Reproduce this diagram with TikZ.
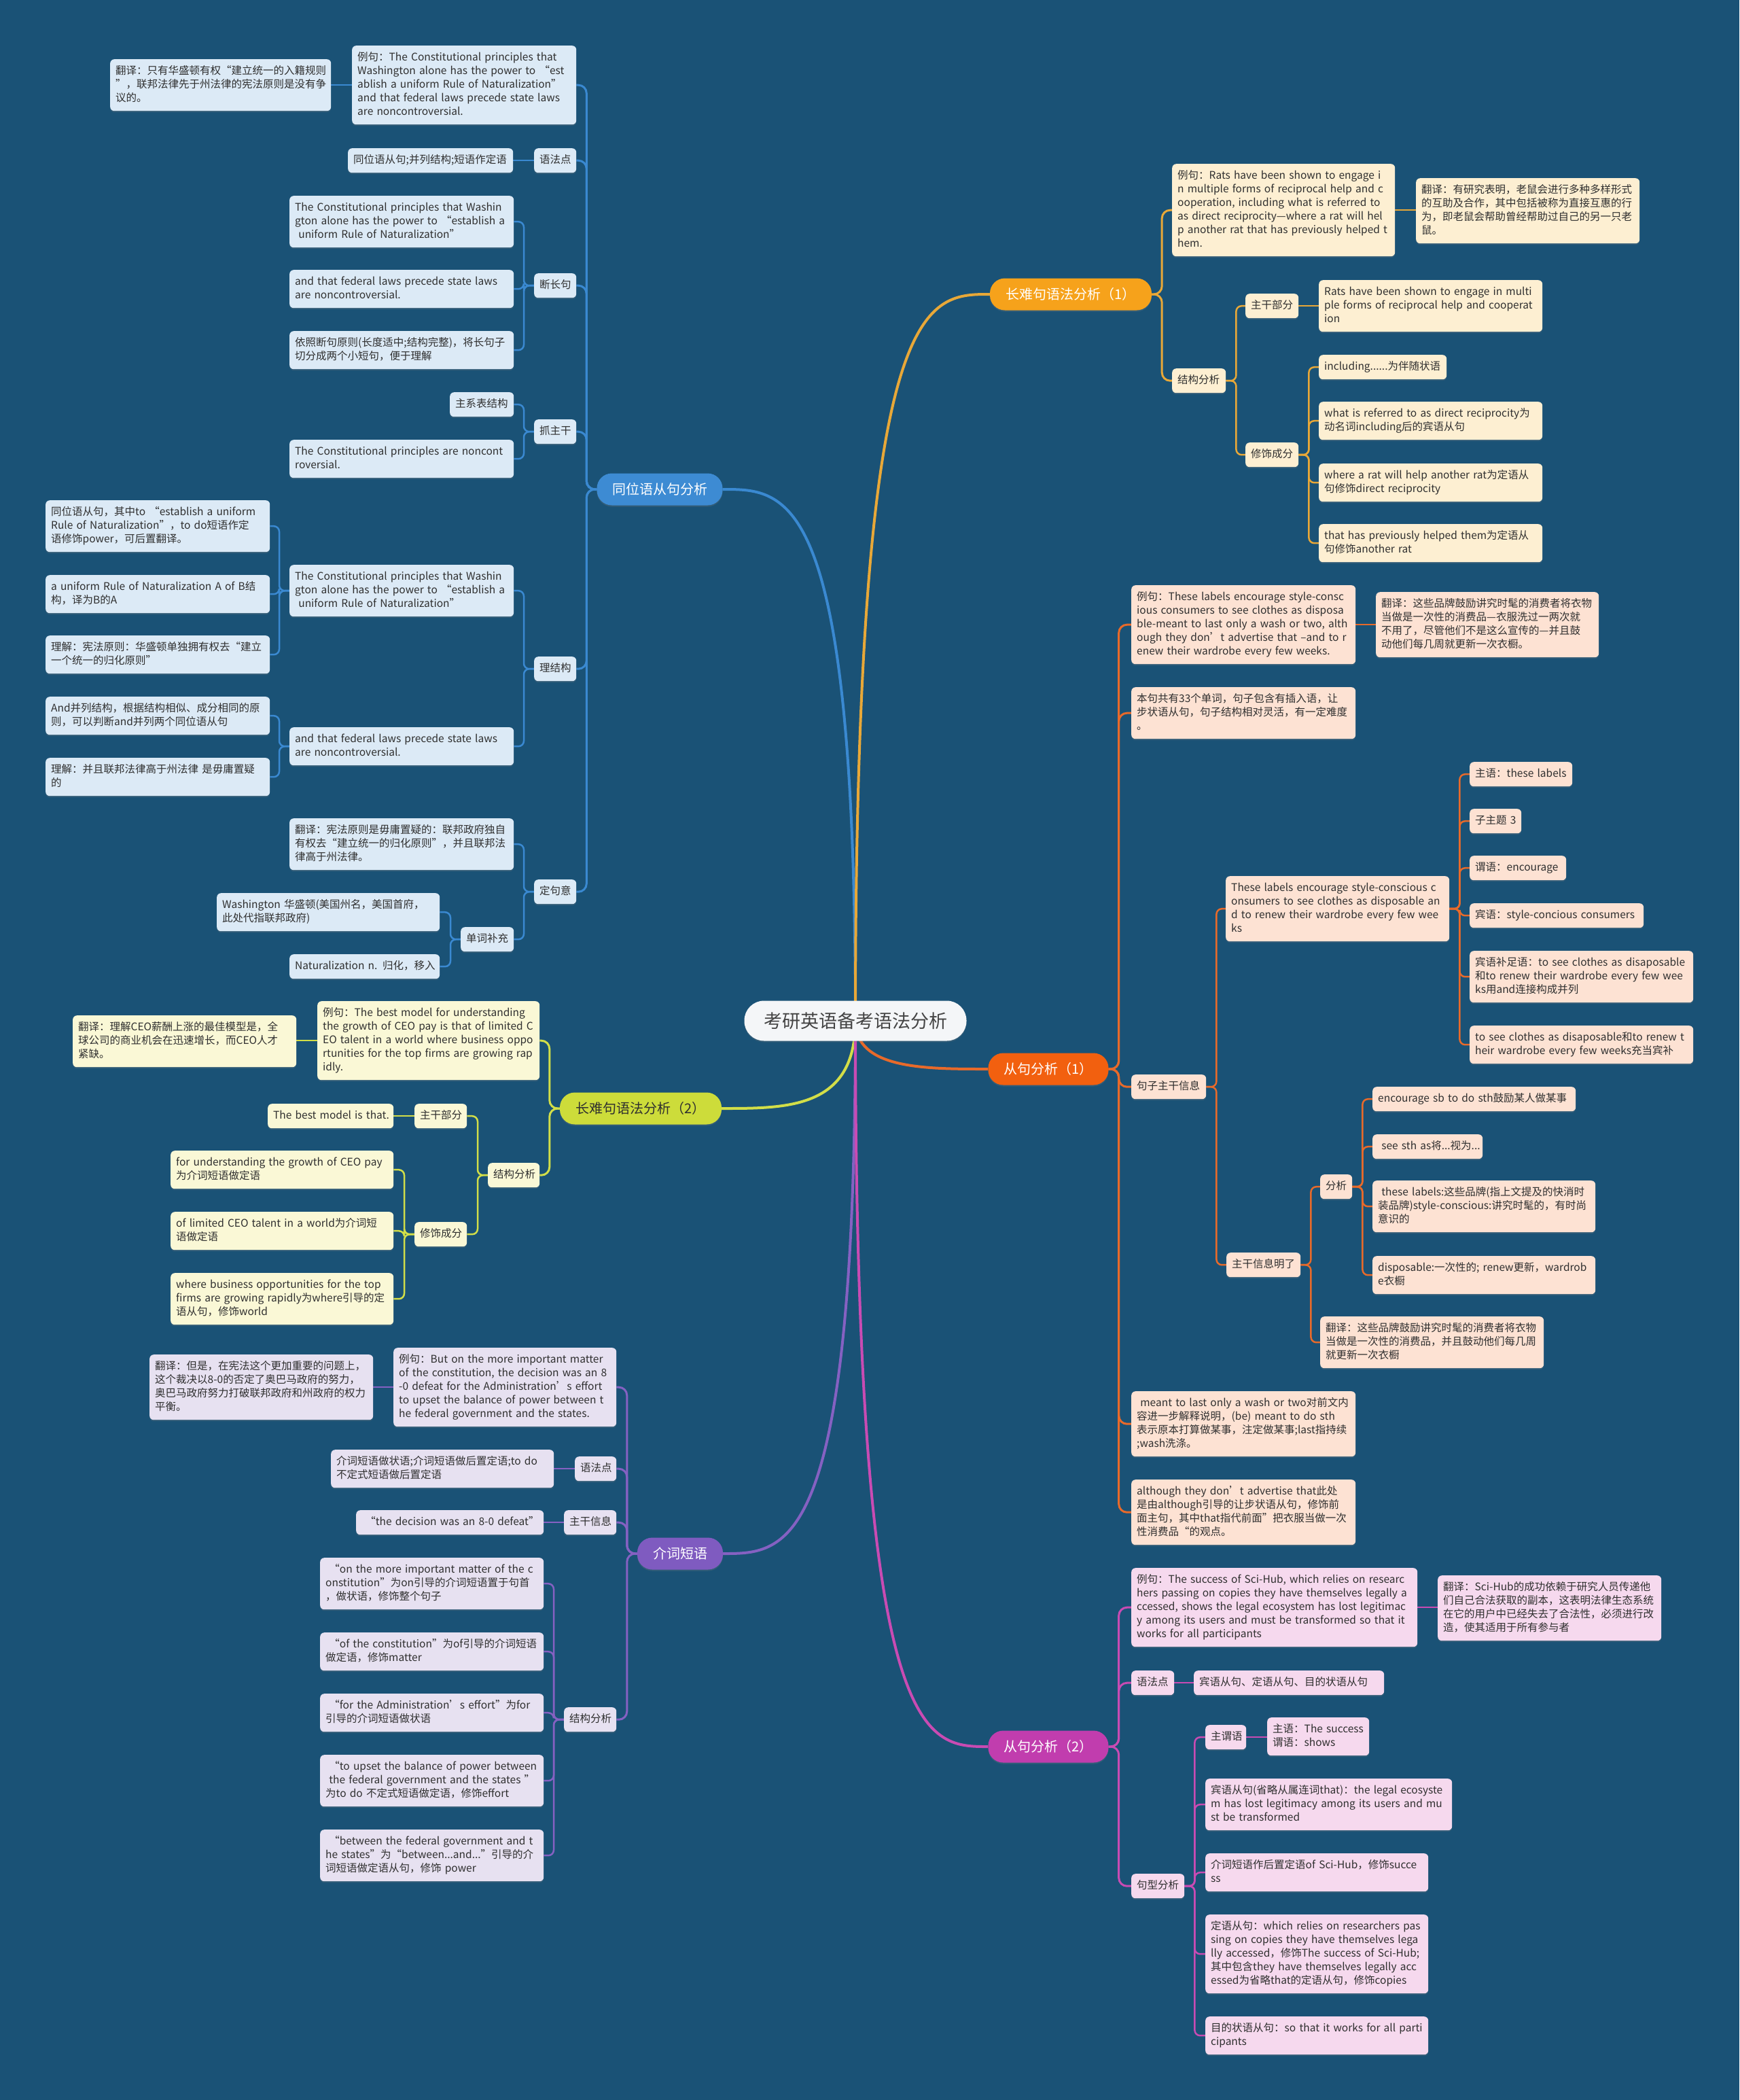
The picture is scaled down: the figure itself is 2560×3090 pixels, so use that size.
\documentclass[tikz,border=0pt]{standalone}
\usepackage{fontspec}
\setmainfont{Noto Sans CJK SC}
\usetikzlibrary{shadows}
\pgfdeclarelayer{bg}\pgfdeclarelayer{edges}
\pgfsetlayers{bg,edges,main}
\definecolor{bgc}{HTML}{1A5276}
\definecolor{txt}{HTML}{2F2F2F}
\definecolor{brB}{HTML}{3D8BD3}\definecolor{chB}{HTML}{DCEAF6}\definecolor{lnB}{HTML}{3A89D1}
\definecolor{brO}{HTML}{F6A21B}\definecolor{chO}{HTML}{FDEFD2}\definecolor{lnO}{HTML}{E8A838}
\definecolor{brR}{HTML}{F2600F}\definecolor{chR}{HTML}{FDE2D3}\definecolor{lnR}{HTML}{E86A2A}
\definecolor{brY}{HTML}{CDDC3A}\definecolor{chY}{HTML}{FAF8D6}\definecolor{lnY}{HTML}{D2DE48}
\definecolor{brP}{HTML}{7F5BC0}\definecolor{chP}{HTML}{E7E1F1}\definecolor{lnP}{HTML}{8561C2}
\definecolor{brM}{HTML}{C13DAE}\definecolor{chM}{HTML}{F6D9EE}\definecolor{lnM}{HTML}{C94BB3}
\definecolor{rootc}{HTML}{F4F6F8}
\tikzset{
  shd/.style={drop shadow={shadow xshift=0pt,shadow yshift=-2pt,opacity=0.25}},
  cbase/.style={shd, rounded corners=6pt, inner xsep=8pt, inner ysep=8pt, align=left,
    font=\fontsize{15.5}{20}\selectfont, text=txt},
  cB/.style={cbase, fill=chB}, cO/.style={cbase, fill=chO}, cR/.style={cbase, fill=chR},
  cY/.style={cbase, fill=chY}, cP/.style={cbase, fill=chP}, cM/.style={cbase, fill=chM},
  brn/.style={shd, rounded corners=22pt, inner sep=0pt, font=\fontsize{20}{24}\selectfont, text=white},
  eB/.style={draw=lnB, line width=2.5pt, rounded corners=8pt},
  eO/.style={draw=lnO, line width=2.5pt, rounded corners=8pt},
  eR/.style={draw=lnR, line width=2.5pt, rounded corners=8pt},
  eY/.style={draw=lnY, line width=2.5pt, rounded corners=8pt},
  eP/.style={draw=lnP, line width=2.5pt, rounded corners=8pt},
  eM/.style={draw=lnM, line width=2.5pt, rounded corners=8pt},
  thick1/.style={line width=3pt, rounded corners=12pt},
  rootline/.style={line width=4pt},
}
\newcommand\bx[7]{%
  \pgfmathsetmacro\tw{#5-16}%
  \node[#1, anchor=north west, text width=\tw pt, minimum height=#6pt] (#2) at (#3,#4)
    {\begin{tabular}{@{}l@{}}#7\end{tabular}};}
\newcommand\LC[3]{\draw[#1] (#2.west) -- ++(-15,0) |- (#3.east);}
\newcommand\RC[3]{\draw[#1] (#2.east) -- ++(15,0) |- (#3.west);}
\newcommand\LS[3]{\draw[#1] (#2.west) -- (#2.west -| #3.east);}
\newcommand\RS[3]{\draw[#1] (#2.east) -- (#2.east -| #3.west);}
\begin{document}
\begin{tikzpicture}[x=1pt,y=-1pt]
\useasboundingbox (0,0) rectangle (2560,3090);
\begin{pgfonlayer}{bg}
\fill[bgc] (0,0) rectangle (2560,3090);
\end{pgfonlayer}

% root
\node[shd, fill=rootc, rounded corners=29pt, minimum width=327pt, minimum height=59pt,
  font=\fontsize{27}{30}\selectfont, text=txt!90] (root) at (1259,1502) {考研英语备考语法分析};

% branches
\node[brn, fill=brB, minimum width=185pt, minimum height=47pt] (b1) at (971,720) {同位语从句分析};
\node[brn, fill=brO, minimum width=238pt, minimum height=47pt] (b2) at (1576,433) {长难句语法分析（1）};
\node[brn, fill=brR, minimum width=177pt, minimum height=47pt] (b3) at (1543,1573) {从句分析（1）};
\node[brn, fill=brY, text=txt, minimum width=238pt, minimum height=47pt] (b4) at (943,1631) {长难句语法分析（2）};
\node[brn, fill=brP, minimum width=126pt, minimum height=47pt] (b5) at (1001,2286) {介词短语};
\node[brn, fill=brM, minimum width=177pt, minimum height=47pt] (b6) at (1543,2570) {从句分析（2）};

% ===== blue subtree
\bx{cB}{t1}{162}{87}{325}{76}{翻译：只有华盛顿有权“建立统一的入籍规则\\”，联邦法律先于州法律的宪法原则是没有争\\议的。}
\bx{cB}{t2}{518}{67}{330}{116}{例句：The Constitutional principles that\\Washington alone has the power to “est\\ablish a uniform Rule of Naturalization”\\and that federal laws precede state laws\\are noncontroversial.}
\bx{cB}{t3}{512}{218}{243}{36}{同位语从句;并列结构;短语作定语}
\bx{cB}{t4}{786}{218}{62}{36}{语法点}
\bx{cB}{t5}{786}{402}{62}{36}{断长句}
\bx{cB}{t5a}{426}{288}{330}{76}{The Constitutional principles that Washin\\gton alone has the power to “establish a\\~uniform Rule of Naturalization”}
\bx{cB}{t5b}{426}{397}{330}{56}{and that federal laws precede state laws\\are noncontroversial.}
\bx{cB}{t5c}{426}{487}{330}{56}{依照断句原则(长度适中;结构完整)，将长句子\\切分成两个小短句，便于理解}
\bx{cB}{t6}{786}{617}{62}{36}{抓主干}
\bx{cB}{t6a}{662}{577}{94}{36}{主系表结构}
\bx{cB}{t6b}{426}{647}{330}{56}{The Constitutional principles are noncont\\roversial.}
\bx{cB}{t7}{786}{966}{62}{36}{理结构}
\bx{cB}{t7a}{426}{831}{330}{76}{The Constitutional principles that Washin\\gton alone has the power to “establish a\\~uniform Rule of Naturalization”}
\bx{cB}{t7a1}{67}{736}{330}{76}{同位语从句，其中to “establish a uniform\\Rule of Naturalization”，to do短语作定\\语修饰power，可后置翻译。}
\bx{cB}{t7a2}{67}{846}{330}{56}{a uniform Rule of Naturalization A of B结\\构，译为B的A}
\bx{cB}{t7a3}{67}{935}{330}{56}{理解：宪法原则：华盛顿单独拥有权去“建立\\一个统一的归化原则”}
\bx{cB}{t7b}{426}{1070}{330}{56}{and that federal laws precede state laws\\are noncontroversial.}
\bx{cB}{t7b1}{67}{1025}{330}{56}{And并列结构，根据结构相似、成分相同的原\\则，可以判断and并列两个同位语从句}
\bx{cB}{t7b2}{67}{1115}{330}{56}{理解：并且联邦法律高于州法律 是毋庸置疑\\的}
\bx{cB}{t8}{786}{1294}{62}{36}{定句意}
\bx{cB}{t8a}{426}{1204}{330}{76}{翻译：宪法原则是毋庸置疑的：联邦政府独自\\有权去“建立统一的归化原则”，并且联邦法\\律高于州法律。}
\bx{cB}{t8b}{678}{1364}{78}{36}{单词补充}
\bx{cB}{t8b1}{319}{1314}{328}{56}{Washington 华盛顿(美国州名，美国首府，\\此处代指联邦政府)}
\bx{cB}{t8b2}{426}{1404}{221}{36}{Naturalization n. 归化，移入}

% ===== orange subtree
\bx{cO}{o1}{1725}{241}{328}{136}{例句：Rats have been shown to engage i\\n multiple forms of reciprocal help and c\\ooperation, including what is referred to\\as direct reciprocity—where a rat will hel\\p another rat that has previously helped t\\hem.}
\bx{cO}{o2}{2084}{262}{329}{96}{翻译：有研究表明，老鼠会进行多种多样形式\\的互助及合作，其中包括被称为直接互惠的行\\为，即老鼠会帮助曾经帮助过自己的另一只老\\鼠。}
\bx{cO}{o3}{1725}{542}{79}{36}{结构分析}
\bx{cO}{o4}{1833}{432}{78}{36}{主干部分}
\bx{cO}{o4a}{1941}{412}{329}{76}{Rats have been shown to engage in multi\\ple forms of reciprocal help and cooperat\\ion}
\bx{cO}{o5}{1833}{651}{78}{36}{修饰成分}
\bx{cO}{o5a}{1941}{522}{188}{36}{including......为伴随状语}
\bx{cO}{o5b}{1941}{591}{329}{56}{what is referred to as direct reciprocity为\\动名词including后的宾语从句}
\bx{cO}{o5c}{1941}{682}{329}{56}{where a rat will help another rat为定语从\\句修饰direct reciprocity}
\bx{cO}{o5d}{1941}{771}{329}{56}{that has previously helped them为定语从\\句修饰another rat}

% ===== red subtree
\bx{cR}{r1}{1665}{861}{330}{116}{例句：These labels encourage style-consc\\ious consumers to see clothes as disposa\\ble-meant to last only a wash or two, alth\\ough they don’t advertise that –and to r\\enew their wardrobe every few weeks.}
\bx{cR}{r2}{2025}{871}{328}{96}{翻译：这些品牌鼓励讲究时髦的消费者将衣物\\当做是一次性的消费品—衣服洗过一两次就\\不用了，尽管他们不是这么宣传的—并且鼓\\动他们每几周就更新一次衣橱。}
\bx{cR}{r3}{1665}{1011}{330}{76}{本句共有33个单词，句子包含有插入语，让\\步状语从句，句子结构相对灵活，有一定难度\\。}
\bx{cR}{r4}{1665}{1581}{110}{36}{句子主干信息}
\bx{cR}{r5}{1804}{1289}{329}{96}{These labels encourage style-conscious c\\onsumers to see clothes as disposable an\\d to renew their wardrobe every few wee\\ks}
\bx{cR}{r5a}{2163}{1121}{151}{36}{主语：these labels}
\bx{cR}{r5b}{2163}{1190}{76}{36}{子主题 3}
\bx{cR}{r5c}{2163}{1259}{142}{36}{谓语：encourage}
\bx{cR}{r5d}{2163}{1329}{256}{36}{宾语：style-concious consumers}
\bx{cR}{r5e}{2163}{1399}{329}{76}{宾语补足语：to see clothes as disaposable\\和to renew their wardrobe every few wee\\ks用and连接构成并列}
\bx{cR}{r5f}{2163}{1509}{329}{56}{to see clothes as disaposable和to renew t\\heir wardrobe every few weeks充当宾补}
\bx{cR}{r6}{1805}{1843}{109}{36}{主干信息明了}
\bx{cR}{r6a}{1943}{1728}{47}{36}{分析}
\bx{cR}{r6a1}{2020}{1599}{299}{36}{encourage sb to do sth鼓励某人做某事}
\bx{cR}{r6a2}{2020}{1669}{162}{36}{~see sth as将...视为...}
\bx{cR}{r6a3}{2020}{1737}{328}{76}{~these labels:这些品牌(指上文提及的快消时\\装品牌)style-conscious:讲究时髦的，有时尚\\意识的}
\bx{cR}{r6a4}{2020}{1848}{328}{56}{disposable:一次性的; renew更新，wardrob\\e衣橱}
\bx{cR}{r6b}{1943}{1937}{329}{76}{翻译：这些品牌鼓励讲究时髦的消费者将衣物\\当做是一次性的消费品，并且鼓动他们每几周\\就更新一次衣橱}
\bx{cR}{r7}{1665}{2047}{330}{96}{~meant to last only a wash or two对前文内\\容进一步解释说明，(be) meant to do sth\\表示原本打算做某事，注定做某事;last指持续\\;wash洗涤。}
\bx{cR}{r8}{1665}{2177}{330}{96}{although they don’t advertise that此处\\是由although引导的让步状语从句，修饰前\\面主句，其中that指代前面”把衣服当做一次\\性消费品“的观点。}

% ===== yellow-green subtree
\bx{cY}{y1}{467}{1473}{327}{116}{例句：The best model for understanding\\the growth of CEO pay is that of limited C\\EO talent in a world where business oppo\\rtunities for the top firms are growing rap\\idly.}
\bx{cY}{y2}{107}{1494}{329}{76}{翻译：理解CEO薪酬上涨的最佳模型是，全\\球公司的商业机会在迅速增长，而CEO人才\\紧缺。}
\bx{cY}{y3}{718}{1711}{76}{36}{结构分析}
\bx{cY}{y4}{610}{1624}{77}{36}{主干部分}
\bx{cY}{y4a}{394}{1624}{185}{36}{The best model is that.}
\bx{cY}{y5}{610}{1798}{77}{36}{修饰成分}
\bx{cY}{y5a}{251}{1693}{328}{56}{for understanding the growth of CEO pay\\为介词短语做定语}
\bx{cY}{y5b}{251}{1783}{328}{56}{of limited CEO talent in a world为介词短\\语做定语}
\bx{cY}{y5c}{251}{1873}{328}{76}{where business opportunities for the top\\firms are growing rapidly为where引导的定\\语从句，修饰world}

% ===== purple subtree
\bx{cP}{p1}{579}{1983}{328}{116}{例句：But on the more important matter\\of the constitution, the decision was an 8\\-0 defeat for the Administration’s effort\\to upset the balance of power between t\\he federal government and the states.}
\bx{cP}{p2}{220}{1993}{329}{96}{翻译：但是，在宪法这个更加重要的问题上，\\这个裁决以8-0的否定了奥巴马政府的努力，\\奥巴马政府努力打破联邦政府和州政府的权力\\平衡。}
\bx{cP}{p3}{846}{2143}{61}{36}{语法点}
\bx{cP}{p3a}{487}{2133}{328}{56}{介词短语做状语;介词短语做后置定语;to do\\不定式短语做后置定语}
\bx{cP}{p4}{830}{2222}{77}{36}{主干信息}
\bx{cP}{p4a}{524}{2222}{276}{36}{~“the decision was an 8-0 defeat”}
\bx{cP}{p5}{830}{2512}{77}{36}{结构分析}
\bx{cP}{p5a}{471}{2292}{329}{76}{~“on the more important matter of the c\\onstitution”为on引导的介词短语置于句首\\，做状语，修饰整个句子}
\bx{cP}{p5b}{471}{2402}{329}{56}{~“of the constitution”为of引导的介词短语\\做定语，修饰matter}
\bx{cP}{p5c}{471}{2492}{329}{56}{~“for the Administration’s effort”为for\\引导的介词短语做状语}
\bx{cP}{p5d}{471}{2582}{329}{76}{~“to upset the balance of power between\\~the federal government and the states ”\\为to do 不定式短语做定语，修饰effort}
\bx{cP}{p5e}{471}{2692}{329}{76}{~“between the federal government and t\\he states”为“between...and...”引导的介\\词短语做定语从句，修饰 power}

% ===== magenta subtree
\bx{cM}{m1}{1665}{2307}{421}{116}{例句：The success of Sci-Hub, which relies on researc\\hers passing on copies they have themselves legally a\\ccessed, shows the legal ecosystem has lost legitimac\\y among its users and must be transformed so that it\\works for all participants}
\bx{cM}{m2}{2116}{2318}{329}{96}{翻译：Sci-Hub的成功依赖于研究人员传递他\\们自己合法获取的副本，这表明法律生态系统\\在它的用户中已经失去了合法性，必须进行改\\造，使其适用于所有参与者}
\bx{cM}{m3}{1665}{2458}{63}{36}{语法点}
\bx{cM}{m3a}{1757}{2458}{280}{36}{宾语从句、定语从句、目的状语从句}
\bx{cM}{m4}{1665}{2757}{78}{36}{句型分析}
\bx{cM}{m4a}{1774}{2538}{60}{36}{主谓语}
\bx{cM}{m4a1}{1865}{2527}{150}{56}{主语：The success\\谓语：shows}
\bx{cM}{m4b}{1774}{2617}{363}{76}{宾语从句(省略从属连词that)：the legal ecosyste\\m has lost legitimacy among its users and mu\\st be transformed}
\bx{cM}{m4c}{1774}{2727}{328}{56}{介词短语作后置定语of Sci-Hub，修饰succe\\ss}
\bx{cM}{m4d}{1774}{2817}{328}{116}{定语从句：which relies on researchers pas\\sing on copies they have themselves lega\\lly accessed，修饰The success of Sci-Hub;\\其中包含they have themselves legally acc\\essed为省略that的定语从句，修饰copies}
\bx{cM}{m4e}{1774}{2967}{328}{56}{目的状语从句：so that it works for all parti\\cipants}

% ===== connectors
\begin{pgfonlayer}{edges}
\draw[draw=lnB, rootline] (root.center) .. controls (1259,719) and (1160,720) .. (b1.east);
\draw[draw=lnO, rootline] (root.center) .. controls (1259,433) and (1360,433) .. (b2.west);
\draw[draw=lnR, rootline] (root.center) .. controls (1259,1573) and (1360,1573) .. (b3.west);
\draw[draw=lnY, rootline] (root.center) .. controls (1259,1631) and (1160,1631) .. (b4.east);
\draw[draw=lnP, rootline] (root.center) .. controls (1259,2286) and (1160,2286) .. (b5.east);
\draw[draw=lnM, rootline] (root.center) .. controls (1259,2570) and (1360,2570) .. (b6.west);

% blue
\foreach \c in {t2,t4,t5,t6,t7,t8} {\LC{eB,thick1}{b1}{\c}}
\LS{eB}{t2}{t1}
\LS{eB}{t4}{t3}
\foreach \c in {t5a,t5b,t5c} {\LC{eB}{t5}{\c}}
\foreach \c in {t6a,t6b} {\LC{eB}{t6}{\c}}
\foreach \c in {t7a,t7b} {\LC{eB}{t7}{\c}}
\foreach \c in {t7a1,t7a2,t7a3} {\LC{eB}{t7a}{\c}}
\foreach \c in {t7b1,t7b2} {\LC{eB}{t7b}{\c}}
\foreach \c in {t8a,t8b} {\LC{eB}{t8}{\c}}
\foreach \c in {t8b1,t8b2} {\LC{eB}{t8b}{\c}}
% orange
\foreach \c in {o1,o3} {\RC{eO,thick1}{b2}{\c}}
\RS{eO}{o1}{o2}
\foreach \c in {o4,o5} {\RC{eO}{o3}{\c}}
\RS{eO}{o4}{o4a}
\foreach \c in {o5a,o5b,o5c,o5d} {\RC{eO}{o5}{\c}}
% red
\foreach \c in {r1,r3,r4,r7,r8} {\RC{eR,thick1}{b3}{\c}}
\RS{eR}{r1}{r2}
\foreach \c in {r5,r6} {\RC{eR}{r4}{\c}}
\foreach \c in {r5a,r5b,r5c,r5d,r5e,r5f} {\RC{eR}{r5}{\c}}
\foreach \c in {r6a,r6b} {\RC{eR}{r6}{\c}}
\foreach \c in {r6a1,r6a2,r6a3,r6a4} {\RC{eR}{r6a}{\c}}
% yellow-green
\foreach \c in {y1,y3} {\LC{eY,thick1}{b4}{\c}}
\LS{eY}{y1}{y2}
\foreach \c in {y4,y5} {\LC{eY}{y3}{\c}}
\LS{eY}{y4}{y4a}
\foreach \c in {y5a,y5b,y5c} {\LC{eY}{y5}{\c}}
% purple
\foreach \c in {p1,p3,p4,p5} {\LC{eP,thick1}{b5}{\c}}
\LS{eP}{p1}{p2}
\LS{eP}{p3}{p3a}
\LS{eP}{p4}{p4a}
\foreach \c in {p5a,p5b,p5c,p5d,p5e} {\LC{eP}{p5}{\c}}
% magenta
\foreach \c in {m1,m3,m4} {\RC{eM,thick1}{b6}{\c}}
\RS{eM}{m1}{m2}
\RS{eM}{m3}{m3a}
\foreach \c in {m4a,m4b,m4c,m4d,m4e} {\RC{eM}{m4}{\c}}
\RS{eM}{m4a}{m4a1}
\end{pgfonlayer}
\end{tikzpicture}
\end{document}
